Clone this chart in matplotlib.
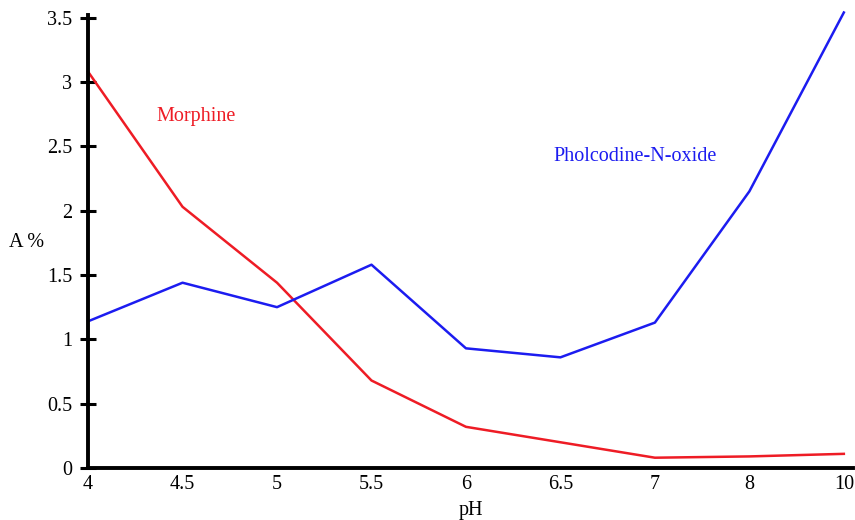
import matplotlib
matplotlib.use("Agg")
import matplotlib.pyplot as plt

ph_labels = ["4", "4.5", "5", "5.5", "6", "6.5", "7", "8", "10"]
morphine = [3.08, 2.03, 1.44, 0.68, 0.32, 0.20, 0.08, 0.09, 0.11]
pholcodine = [1.14, 1.44, 1.25, 1.58, 0.93, 0.86, 1.13, 2.15, 3.54]
y_ticks = [0, 0.5, 1, 1.5, 2, 2.5, 3, 3.5]
y_tick_labels = ["0", "0.5", "1", "1.5", "2", "2.5", "3", "3.5"]

plt.rcParams["font.family"] = ["Liberation Serif", "DejaVu Serif"]

fig = plt.figure(figsize=(8.55, 5.2), dpi=100)
ax = fig.add_axes([0.103, 0.1, 0.895, 0.871])

xs = list(range(len(ph_labels)))
ax.plot(xs, morphine, color="#ee1c25", lw=1.8, clip_on=False)
ax.plot(xs, pholcodine, color="#1c1cf0", lw=1.8, clip_on=False)

ax.set_xlim(0, 8.1)
ax.set_ylim(0, 3.52)
ax.set_xticks(xs)
ax.set_xticklabels(ph_labels, fontsize=14.5)
ax.set_yticks(y_ticks)
ax.set_yticklabels(y_tick_labels, fontsize=14.5)

for s in ["top", "right"]:
    ax.spines[s].set_visible(False)
for s in ["left", "bottom"]:
    ax.spines[s].set_linewidth(2.8)
    ax.spines[s].set_color("black")

ax.tick_params(axis="y", direction="inout", length=11, width=2.2, pad=6)
ax.tick_params(axis="x", length=0, pad=5)

ax.set_xlabel("pH", fontsize=14.5, labelpad=5)
ax.set_ylabel("A %", fontsize=14.5, rotation=0, ha="center", va="center")
ax.yaxis.set_label_coords(-0.081, 0.497)

ax.text(0.72, 2.73, "Morphine", color="#ee1c25", fontsize=14.5, va="center")
ax.text(4.93, 2.42, "Pholcodine-N-oxide", color="#1c1cf0", fontsize=14.5, va="center")

fig.savefig("out.png", dpi=100)
